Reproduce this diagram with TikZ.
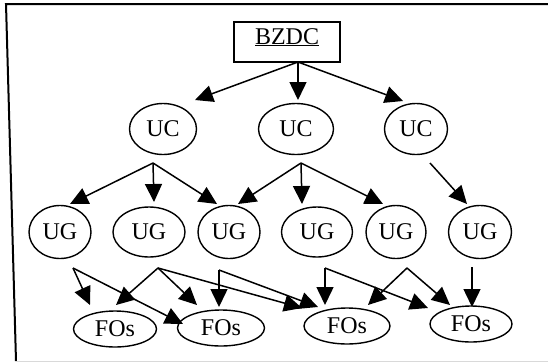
\documentclass[tikz,border=0pt]{standalone}
\usepackage{fontspec}
\setmainfont{Liberation Serif}
\usetikzlibrary{arrows.meta,shapes.geometric}
\begin{document}
\begin{tikzpicture}[x=1pt,y=-1pt,
  every node/.style={font=\fontsize{24}{28}\selectfont},
  ell/.style={draw,ellipse,line width=1.4pt,inner sep=0pt},
  ucnode/.style={ell,minimum height=51pt},
  ugnode/.style={ell,minimum height=53pt},
  fonode/.style={ell,minimum height=36pt},
  topbox/.style={draw,rectangle,line width=1.6pt,minimum width=106pt,minimum height=40pt,inner sep=0pt,text height=17pt,text depth=13pt},
  arr/.style={line width=1.5pt,-{Triangle[length=18pt,width=17pt]}},
  frame/.style={line width=2pt}]
\fill[white] (0,0) rectangle (548,362);
\useasboundingbox (0,0) rectangle (548,362);
% frame
\draw[frame] (548,4) -- (6,4) -- (16,361);
\draw[line width=1pt,black!15] (16,361) -- (548,361);
% nodes
\node[topbox] (bzdc) at (287,42) {\underline{BZDC}};
\node[ucnode,minimum width=67pt] (uc1) at (163,129) {UC};
\node[ucnode,minimum width=75pt] (uc2) at (296,129) {UC};
\node[ucnode,minimum width=63pt] (uc3) at (416,129) {UC};
\node[ugnode,minimum width=62pt] (ug1) at (60,232) {UG};
\node[ugnode,minimum width=72pt,minimum height=50pt] (ug2) at (149,232) {UG};
\node[ugnode,minimum width=62pt] (ug3) at (229,232) {UG};
\node[ugnode,minimum width=71pt,minimum height=50pt] (ug4) at (317,232) {UG};
\node[ugnode,minimum width=60pt] (ug5) at (396,232) {UG};
\node[ugnode,minimum width=63pt] (ug6) at (480,232) {UG};
\node[fonode,minimum width=83pt] (fo1) at (115,329) {FOs};
\node[fonode,minimum width=87pt] (fo2) at (221,328) {FOs};
\node[fonode,minimum width=86pt] (fo3) at (347,326) {FOs};
\node[fonode,minimum width=82pt] (fo4) at (471,324) {FOs};
% source points
\coordinate (bzdc-out) at (298,62);
\coordinate (uc1-out) at (153,163);
\coordinate (uc2-out) at (301,163);
\coordinate (uc3-out) at (430,163);
\coordinate (ug1-out) at (73,268);
\coordinate (ug2-out) at (158,268);
\coordinate (ug3-out) at (219,270);
\coordinate (ug4-out) at (325,268);
\coordinate (ug5-out) at (407,268);
\coordinate (ug6-out) at (472,267);
% arrow ends
\coordinate (uc1-in) at (195,100);
\coordinate (uc2-in) at (298,100);
\coordinate (uc3-in) at (403,101);
\coordinate (ug1-in) at (70,204);
\coordinate (ug2-in) at (154,202);
\coordinate (ug3-inA) at (217,204);
\coordinate (ug3-inB) at (238,204);
\coordinate (ug4-in) at (302,204);
\coordinate (ug5-in) at (383,204);
\coordinate (ug6-in) at (467,204);
\coordinate (fo1-inA) at (90,305);
\coordinate (fo1-inB) at (116,305);
\coordinate (fo2-inA) at (183,324);
\coordinate (fo2-inB) at (197,305);
\coordinate (fo2-inC) at (219,307);
\coordinate (fo3-inA) at (302,308);
\coordinate (fo3-inB) at (318,307);
\coordinate (fo3-inC) at (325,305);
\coordinate (fo3-inD) at (368,305);
\coordinate (fo4-inA) at (428,308);
\coordinate (fo4-inB) at (450,305);
\coordinate (fo4-inC) at (472,307);
% connectors
\draw[arr] (bzdc-out) -- (uc1-in);
\draw[arr] (bzdc-out) -- (uc2-in);
\draw[arr] (bzdc-out) -- (uc3-in);
\draw[arr] (uc1-out) -- (ug1-in);
\draw[arr] (uc1-out) -- (ug2-in);
\draw[arr] (uc1-out) -- (ug3-inA);
\draw[arr] (uc2-out) -- (ug3-inB);
\draw[arr] (uc2-out) -- (ug4-in);
\draw[arr] (uc2-out) -- (ug5-in);
\draw[arr] (uc3-out) -- (ug6-in);
\draw[arr] (ug1-out) -- (fo1-inA);
\draw[arr] (ug1-out) -- (fo2-inA);
\draw[arr] (ug2-out) -- (fo1-inB);
\draw[arr] (ug2-out) -- (fo2-inB);
\draw[arr] (ug2-out) -- (fo3-inA);
\draw[arr] (ug3-out) -- (fo2-inC);
\draw[arr] (ug3-out) -- (fo3-inB);
\draw[arr] (ug4-out) -- (fo3-inC);
\draw[arr] (ug4-out) -- (fo4-inA);
\draw[arr] (ug5-out) -- (fo3-inD);
\draw[arr] (ug5-out) -- (fo4-inB);
\draw[arr] (ug6-out) -- (fo4-inC);
\end{tikzpicture}
\end{document}
